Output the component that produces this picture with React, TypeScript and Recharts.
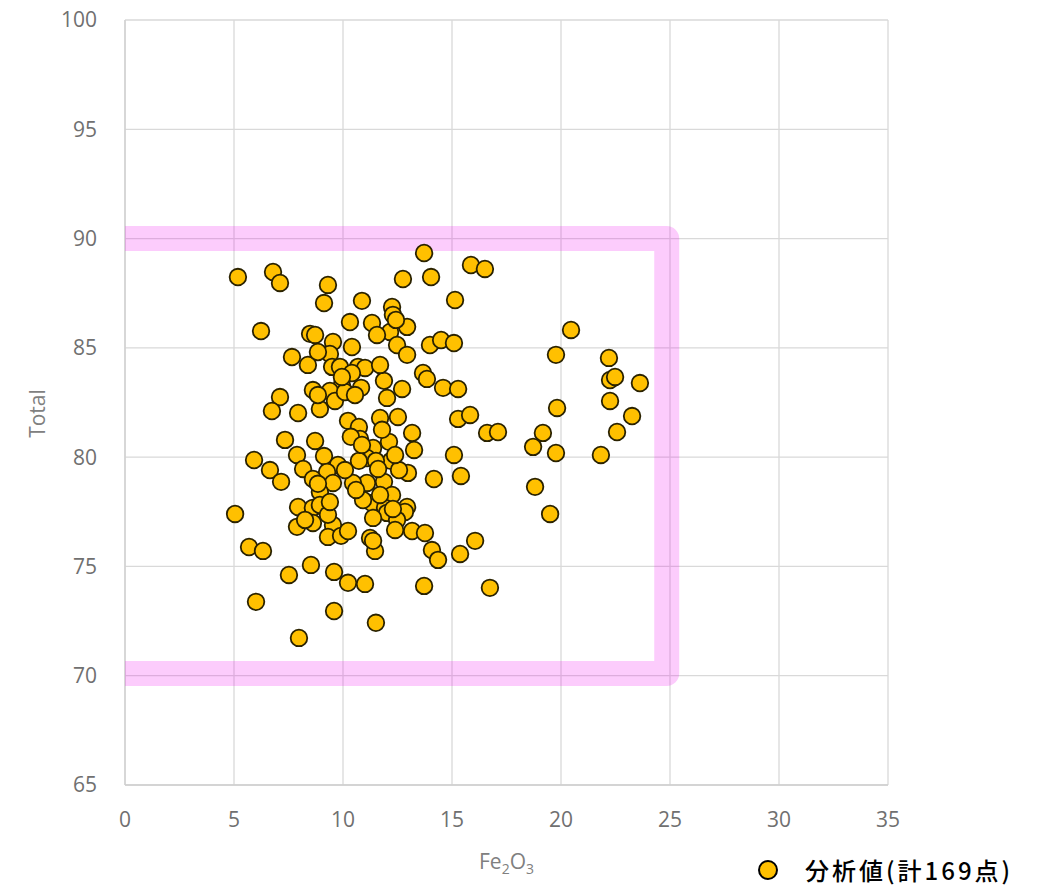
import React from 'react';
import { ScatterChart, Scatter, XAxis, YAxis, CartesianGrid, Legend } from 'recharts';

// Fe2O3 values of the analysed samples
const fe2o3: number[] = [
  5.18, 6.79, 7.11, 9.31, 9.13, 10.87, 10.32, 11.33, 6.24, 8.49,
  8.72, 9.54, 10.41, 7.66, 8.39, 9.40, 9.50, 9.86, 10.69, 9.95,
  8.62, 10.83, 13.72, 12.75, 14.04, 15.87, 16.51, 15.14, 12.25, 12.29,
  12.16, 12.94, 11.56, 12.48, 12.94, 13.99, 14.50, 15.09, 13.67, 13.85,
  11.88, 14.59, 15.28, 11.01, 20.46, 19.77, 22.20, 22.25, 22.48, 23.62,
  22.25, 19.82, 23.26, 22.57, 19.17, 18.72, 19.77, 21.83, 18.81, 19.50,
  12.02, 11.70, 12.52, 15.28, 15.83, 13.17, 16.61, 17.11, 12.11, 11.38,
  13.26, 15.09, 11.10, 12.20, 12.98, 14.17, 15.41, 11.10, 11.88, 12.25,
  11.33, 11.93, 12.94, 7.11, 6.74, 7.94, 8.94, 9.40, 9.63, 10.23,
  10.73, 10.78, 7.34, 8.72, 7.89, 9.13, 9.77, 10.73, 5.92, 6.65,
  8.17, 9.27, 8.62, 7.16, 9.54, 8.94, 10.46, 10.92, 7.94, 8.62,
  5.05, 7.89, 8.62, 9.54, 9.31, 9.91, 11.24, 5.69, 6.33, 7.52,
  8.53, 9.59, 10.23, 11.01, 6.01, 9.59, 7.98, 12.02, 12.84, 11.38,
  12.48, 12.39, 13.17, 13.76, 11.47, 14.08, 14.36, 15.37, 16.06, 13.72,
  16.74, 11.51, 10.41, 11.70, 10.36, 11.51, 8.85, 8.94, 9.31, 12.29,
  10.23, 11.38, 12.43, 10.09, 10.55, 8.85, 10.87, 10.09, 10.60, 12.57,
  11.79, 12.71, 9.40, 8.26, 12.39, 11.61, 9.95, 8.85, 11.70,
];

// Total values of the analysed samples
const total: number[] = [
  88.24, 88.47, 87.97, 87.88, 87.05, 87.15, 86.18, 86.14, 85.77, 85.64,
  85.59, 85.27, 85.04, 84.58, 84.22, 84.72, 84.13, 84.13, 84.13, 83.30,
  83.07, 83.17, 89.34, 88.15, 88.24, 88.79, 88.61, 87.19, 86.87, 86.51,
  85.73, 85.96, 85.59, 85.13, 84.68, 85.13, 85.36, 85.22, 83.85, 83.58,
  83.49, 83.17, 83.12, 84.08, 85.82, 84.68, 84.54, 83.53, 83.67, 83.39,
  82.57, 82.25, 81.88, 81.15, 81.11, 80.47, 80.19, 80.10, 78.64, 77.40,
  82.71, 81.79, 81.84, 81.75, 81.93, 81.11, 81.11, 81.15, 80.70, 80.42,
  80.33, 80.10, 79.96, 79.83, 79.28, 79.00, 79.14, 78.82, 78.87, 78.27,
  77.90, 77.68, 77.72, 82.75, 82.11, 82.02, 82.20, 83.03, 82.57, 81.66,
  81.38, 80.83, 80.79, 80.74, 80.10, 80.05, 79.64, 79.83, 79.87, 79.41,
  79.46, 79.32, 79.00, 78.87, 78.82, 78.41, 78.82, 78.04, 77.72, 77.68,
  77.40, 76.81, 76.99, 76.90, 76.35, 76.40, 76.30, 75.89, 75.71, 74.61,
  75.07, 74.75, 74.25, 74.20, 73.38, 72.96, 71.73, 77.45, 77.49, 77.22,
  77.13, 76.67, 76.62, 76.53, 75.71, 75.75, 75.30, 75.57, 76.17, 74.11,
  74.02, 72.42, 83.85, 84.22, 80.93, 79.83, 78.78, 77.81, 77.36, 77.63,
  76.62, 76.17, 86.28, 82.98, 82.84, 82.84, 80.56, 79.41, 78.50, 79.41,
  81.25, 83.12, 77.95, 77.13, 80.10, 79.46, 83.67, 84.81, 78.27,
];

// Highlighted range (drawn as a bracket: top, right side, bottom)
const rangeX: number[] = [0, 24.85, 24.85, 0];
const rangeY: number[] = [90.0, 90.0, 70.1, 70.1];

const xTicks: number[] = [0, 5, 10, 15, 20, 25, 30, 35];
const yTicks: number[] = [65, 70, 75, 80, 85, 90, 95, 100];

const legendLabel = '分析値(計169点)';

const points = fe2o3.map((x, i) => ({ x, y: total[i] }));
const bracket = rangeX.map((x, i) => ({ x, y: rangeY[i] }));

const tickFont = { fontFamily: 'Open Sans, sans-serif', fontSize: 21, fill: '#707070' };

const Dot = (props: any) => {
  const { cx, cy } = props;
  if (cx == null || cy == null) return null;
  return <circle cx={cx} cy={cy} r={8.3} fill="#FFC000" stroke="#2a2200" strokeWidth={1.8} />;
};

const NoDot = () => null;

const XLabel = (props: any) => {
  const vb = props.viewBox || { x: 125, y: 785, width: 763 };
  const cx = vb.x + vb.width / 2;
  return (
    <text x={cx} y={vb.y + 84} textAnchor="middle" fontFamily="Open Sans, sans-serif" fontSize={21} fill="#808080">
      Fe<tspan fontSize={14} dy={5}>2</tspan>
      <tspan dy={-5}>O</tspan>
      <tspan fontSize={14} dy={5}>3</tspan>
    </text>
  );
};

const YLabel = (props: any) => {
  const vb = props.viewBox || { x: 0, y: 20, height: 765 };
  const cx = 37;
  const cy = vb.y + vb.height / 2 + 11;
  return (
    <text
      x={cx}
      y={cy}
      textAnchor="middle"
      dominantBaseline="central"
      transform={`rotate(-90, ${cx}, ${cy})`}
      fontFamily="Open Sans, sans-serif"
      fontSize={21}
      fill="#808080"
    >
      Total
    </text>
  );
};

const LegendContent = () => (
  <div style={{ display: 'flex', alignItems: 'center', height: 36 }}>
    <svg width={24} height={24} style={{ display: 'block', flex: 'none' }}>
      <circle cx={12} cy={12} r={9} fill="#FFC000" stroke="#000" strokeWidth={2} />
    </svg>
    <span
      style={{
        marginLeft: 25,
        fontFamily: '"Noto Sans CJK JP", sans-serif',
        fontSize: 24,
        lineHeight: '36px',
        fontWeight: 500,
        color: '#000',
        whiteSpace: 'nowrap',
        letterSpacing: 3,
      }}
    >
      {legendLabel}
    </span>
  </div>
);

export default function App() {
  return (
    <div style={{ position: 'absolute', left: 0, top: 0, width: 1048, height: 889, overflow: 'hidden', background: '#fff' }}>
      <ScatterChart width={1048} height={889} margin={{ top: 20, right: 160, bottom: 44, left: 0 }}>
        <CartesianGrid stroke="#d9d9d9" strokeWidth={1.3} />
        <XAxis
          type="number"
          dataKey="x"
          domain={[0, 35]}
          ticks={xTicks}
          interval={0}
          allowDataOverflow
          height={60}
          axisLine={{ stroke: '#cfcfcf', strokeWidth: 1.3 }}
          tickLine={false}
          tickSize={0}
          tickMargin={27}
          tick={tickFont}
          label={<XLabel />}
        />
        <YAxis
          type="number"
          dataKey="y"
          domain={[65, 100]}
          ticks={yTicks}
          interval={0}
          allowDataOverflow
          width={125}
          axisLine={{ stroke: '#cfcfcf', strokeWidth: 1.3 }}
          tickLine={false}
          tickSize={0}
          tickMargin={28}
          tick={tickFont}
          label={<YLabel />}
        />
        <Scatter
          data={bracket}
          isAnimationActive={false}
          shape={NoDot}
          line={{ stroke: '#f000f0', strokeOpacity: 0.2, strokeWidth: 25, strokeLinejoin: 'round', fill: 'none' }}
          legendType="none"
        />
        <Scatter data={points} isAnimationActive={false} shape={Dot} name={legendLabel} />
        <Legend
          layout="horizontal"
          verticalAlign="middle"
          align="center"
          wrapperStyle={{ left: 756, top: 852, width: 290, height: 36 }}
          content={<LegendContent />}
        />
      </ScatterChart>
    </div>
  );
}
